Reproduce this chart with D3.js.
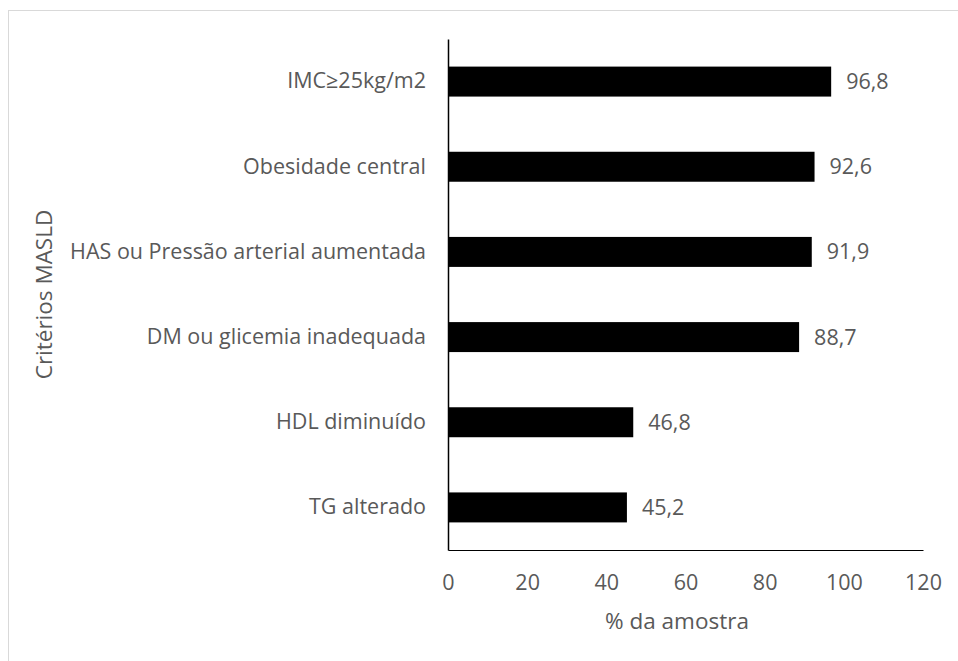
<!DOCTYPE html>
<html>
<head>
<meta charset="utf-8">
<script src="https://cdn.jsdelivr.net/npm/d3@7"></script>
<style>
  html, body { margin: 0; padding: 0; background: #fff; }
  svg { display: block; }
  text { font-family: "Open Sans", "Noto Sans", sans-serif; fill: #595959; }
</style>
</head>
<body>
<svg id="chart" width="958" height="661"></svg>
<script>
const categories = [
  "IMC≥25kg/m2",
  "Obesidade central",
  "HAS ou Pressão arterial aumentada",
  "DM ou glicemia inadequada",
  "HDL diminuído",
  "TG alterado"
];
const values = [96.8, 92.6, 91.9, 88.7, 46.8, 45.2];
const valueLabels = ["96,8", "92,6", "91,9", "88,7", "46,8", "45,2"];
const xTicks = [0, 20, 40, 60, 80, 100, 120];
const xTitle = "% da amostra";
const yTitle = "Critérios MASLD";

const svg = d3.select("#chart");
const W = 958, H = 661;
const m = { left: 448, right: W - 923, top: 39, bottom: H - 550 };
const FS = 21.5;
const FONT = '"Open Sans", "Noto Sans", sans-serif';

// chart border
svg.append("rect")
  .attr("x", 8.5).attr("y", 10.5)
  .attr("width", 1200).attr("height", 1200)
  .attr("fill", "none").attr("stroke", "#d9d9d9").attr("stroke-width", 1);

const x = d3.scaleLinear().domain([0, 120]).range([m.left, W - m.right]);
const y = d3.scaleBand().domain(categories).range([m.top, H - m.bottom])
  .paddingInner(0.648).paddingOuter(0.324);

// bars
svg.append("g").selectAll("rect")
  .data(categories)
  .join("rect")
  .attr("x", x(0))
  .attr("y", d => y(d))
  .attr("width", (d, i) => x(values[i]) - x(0))
  .attr("height", y.bandwidth())
  .attr("fill", "#000");

// value labels
svg.append("g").selectAll("text")
  .data(categories)
  .join("text")
  .attr("x", (d, i) => x(values[i]) + 15)
  .attr("y", d => y(d) + y.bandwidth() / 2)
  .attr("dy", "0.35em")
  .attr("font-size", FS)
  .text((d, i) => valueLabels[i]);

// x axis
const xAxis = d3.axisBottom(x).tickValues(xTicks).tickSize(0).tickPadding(25)
  .tickFormat(d3.format("d"));
const gx = svg.append("g").attr("transform", `translate(0,${H - m.bottom})`).call(xAxis);
gx.select(".domain").attr("stroke", "#000").attr("stroke-width", 1);
gx.selectAll("text").attr("font-size", FS).attr("fill", "#595959")
  .style("font-family", FONT);

// y axis
const yAxis = d3.axisLeft(y).tickSize(0).tickPadding(22);
const gy = svg.append("g").attr("transform", `translate(${m.left},0)`).call(yAxis);
gy.select(".domain").attr("stroke", "#000").attr("stroke-width", 1.5);
gy.selectAll("text").attr("font-size", FS).attr("fill", "#595959")
  .style("font-family", FONT);

// titles
svg.append("text")
  .attr("x", 677).attr("y", 621)
  .attr("text-anchor", "middle").attr("dy", "0.35em")
  .attr("font-size", 22.5)
  .text(xTitle);

svg.append("text")
  .attr("transform", `translate(44,${(m.top + H - m.bottom) / 2}) rotate(-90)`)
  .attr("text-anchor", "middle").attr("dy", "0.35em")
  .attr("font-size", 22.5)
  .text(yTitle);
</script>
</body>
</html>
